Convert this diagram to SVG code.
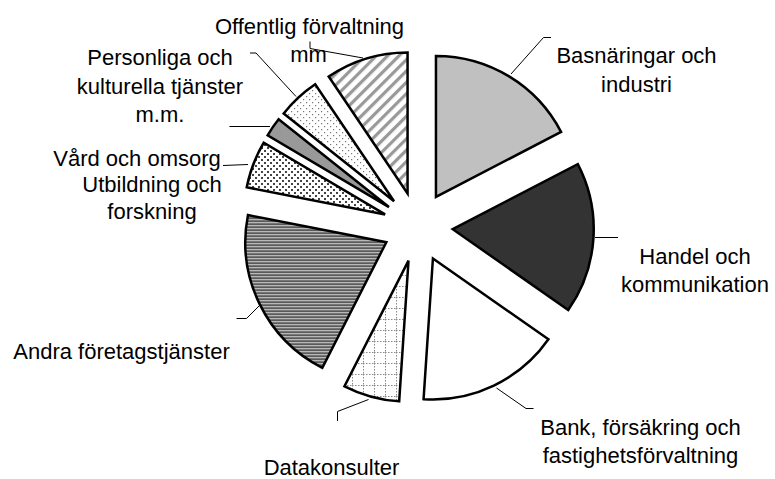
<svg xmlns="http://www.w3.org/2000/svg" width="775" height="479" viewBox="0 0 775 479">
<style>
.lbl{font-family:"Liberation Sans",Arial,sans-serif;font-size:22px;fill:#000;text-anchor:middle}
.sl{stroke:#000;stroke-width:2.5;stroke-linejoin:miter}
.ld{fill:none;stroke:#000;stroke-width:1}
</style>
<defs>
<pattern id="pDiag" width="8" height="8" patternUnits="userSpaceOnUse" patternTransform="rotate(45)">
<rect width="8" height="8" fill="#fff"/>
<rect x="0" y="0" width="3.2" height="8" fill="#999"/>
</pattern>
<pattern id="pHoriz" width="3" height="3" patternUnits="userSpaceOnUse">
<rect width="3" height="3" fill="#5a5a5a"/>
<rect x="0" y="0" width="3" height="1.3" fill="#b8b8b8"/>
</pattern>
<pattern id="pDense" width="6" height="6" patternUnits="userSpaceOnUse">
<rect width="6" height="6" fill="#fff"/>
<rect x="0" y="0" width="2" height="2" fill="#444"/>
<rect x="3" y="3" width="2" height="2" fill="#444"/>
</pattern>
<pattern id="pSparse" width="6" height="6" patternUnits="userSpaceOnUse">
<rect width="6" height="6" fill="#fff"/>
<rect x="0" y="0" width="1.2" height="1.2" fill="#777"/>
<rect x="3" y="3" width="1.2" height="1.2" fill="#777"/>
</pattern>
<pattern id="pGrid" width="11" height="11" patternUnits="userSpaceOnUse">
<rect width="11" height="11" fill="#fff"/>
<path d="M0 0.5H11M0.5 0V11" stroke="#888" stroke-width="1" stroke-dasharray="1.5 1.5"/>
</pattern>
</defs>

<g id="slice-basnaringar">
<path class="sl" fill="#c0c0c0" d="M435.96 196.98 L435.96 55.98 A141 141 0 0 1 561.03 131.88 Z"/>
</g>
<g id="slice-handel">
<path class="sl" fill="#333333" d="M452.73 229.19 L577.80 164.09 A141 141 0 0 1 568.23 310.06 Z"/>
</g>
<g id="slice-bank">
<path class="sl" fill="#ffffff" d="M432.92 258.46 L548.42 339.33 A141 141 0 0 1 423.58 399.15 Z"/>
</g>
<g id="slice-datakonsulter">
<path class="sl" fill="url(#pGrid)" d="M408.51 260.64 L399.17 401.33 A141 141 0 0 1 344.50 386.27 Z"/>
</g>
<g id="slice-andra">
<path class="sl" fill="url(#pHoriz)" d="M386.33 242.22 L322.32 367.85 A141 141 0 0 1 247.97 215.08 Z"/>
</g>
<g id="slice-utbildning">
<path class="sl" fill="url(#pDense)" d="M385.09 214.44 L246.73 187.30 A141 141 0 0 1 263.73 142.67 Z"/>
</g>
<g id="slice-vard">
<path class="sl" fill="#999999" d="M388.97 207.05 L267.61 135.28 A141 141 0 0 1 278.62 119.28 Z"/>
</g>
<g id="slice-personliga">
<path class="sl" fill="url(#pSparse)" d="M394.04 201.20 L283.69 113.43 A141 141 0 0 1 315.19 84.31 Z"/>
</g>
<g id="slice-offentlig">
<path class="sl" fill="url(#pDiag)" d="M407.57 193.43 L328.72 76.54 A141 141 0 0 1 407.57 52.43 Z"/>
</g>

<g id="connectors">
<polyline class="ld" points="511,74 543.5,37.5 551,37.5"/>
<polyline class="ld" points="595,237.5 618,237.5"/>
<polyline class="ld" points="496.5,388 526,408.5 533.5,408.5"/>
<polyline class="ld" points="368.5,399.5 337.5,411.5 337.5,421"/>
<polyline class="ld" points="260,305 246.5,318.5 236.5,318.5"/>
<polyline class="ld" points="223,165.5 248,164.5"/>
<polyline class="ld" points="229.5,126.5 270,126.5"/>
<polyline class="ld" points="250,53 256,53 296,96.5"/>
<polyline class="ld" points="310,41.5 310,48.5 363,58"/>
</g>

<g id="labels">
<text class="lbl" x="636.5" y="63">Basnäringar och</text>
<text class="lbl" x="636.5" y="91.5">industri</text>
<text class="lbl" x="695" y="263.5">Handel och</text>
<text class="lbl" x="695" y="291.5">kommunikation</text>
<text class="lbl" x="640.5" y="435">Bank, försäkring och</text>
<text class="lbl" x="640.5" y="463">fastighetsförvaltning</text>
<text class="lbl" x="331.5" y="475">Datakonsulter</text>
<text class="lbl" x="121.5" y="358.5">Andra företagstjänster</text>
<text class="lbl" x="137" y="165.5">Vård och omsorg</text>
<text class="lbl" x="152" y="191.5">Utbildning och</text>
<text class="lbl" x="152" y="218.5">forskning</text>
<text class="lbl" x="160" y="65">Personliga och</text>
<text class="lbl" x="160" y="93.5">kulturella tjänster</text>
<text class="lbl" x="160" y="122">m.m.</text>
<text class="lbl" x="309.5" y="33.5">Offentlig förvaltning</text>
<text class="lbl" x="308.5" y="61.5">mm</text>
</g>
</svg>
